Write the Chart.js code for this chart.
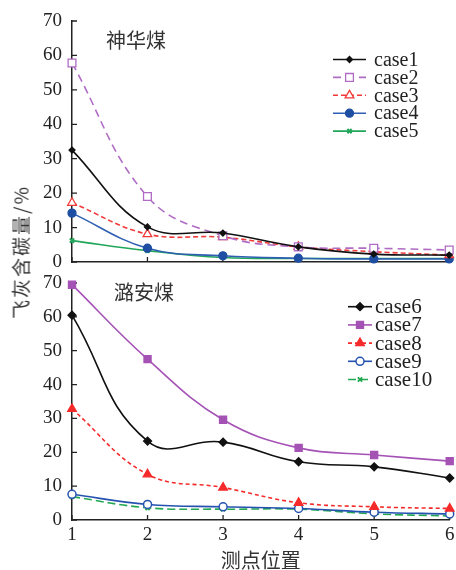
<!DOCTYPE html>
<html><head><meta charset="utf-8">
<script src="https://cdn.jsdelivr.net/npm/chart.js@4/dist/chart.umd.min.js"></script>
<style>
html,body{margin:0;padding:0;background:#fff;}
#wrap{position:relative;width:456px;height:570px;overflow:hidden;background:#fff;}
#c1{position:absolute;left:0;top:0;width:456px;height:274px;}
#c2{position:absolute;left:0;top:271px;width:456px;height:299px;}
#ytitle{position:absolute;left:20px;top:252px;transform:translate(-50%,-50%) rotate(-90deg);font:19px "Noto Sans CJK SC";letter-spacing:2px;white-space:nowrap;color:#333;}
</style></head><body>
<div id="wrap">
<canvas id="c1" width="456" height="274"></canvas>
<canvas id="c2" width="456" height="299"></canvas>
<div id="ytitle">飞灰含碳量/%</div>
</div>
<script>
// ---- data ----
const positions = ['1','2','3','4','5','6'];
const yTickValues = [0,10,20,30,40,50,60,70];
const topTitle = '神华煤';
const bottomTitle = '潞安煤';
const xTitle = '测点位置';

const case1 = [32.5, 10.2, 8.4, 4.4, 2.3, 2.0];
const case2 = [57.8, 19.0, 7.6, 4.4, 4.0, 3.5];
const case3 = [17.2, 8.1, 7.2, 4.4, 3.0, 2.0];
const case4 = [14.2, 4.0, 1.8, 1.1, 0.9, 0.9];
const case5 = [6.2, 3.3, 1.3, 1.0, 1.0, 1.0];

const case6 = [60.5, 23.3, 23.0, 17.2, 15.7, 12.4];
const case7 = [69.5, 47.5, 29.6, 21.3, 19.2, 17.4];
const case8 = [32.8, 13.5, 9.6, 5.1, 3.9, 3.4];
const case9 = [7.6, 4.6, 3.9, 3.4, 2.3, 1.8];
const case10 = [6.9, 3.6, 3.2, 3.2, 1.8, 1.2];

// ---- styles ----
function ds(label, data, color, opts) {
  return Object.assign({
    label, data,
    borderColor: color,
    backgroundColor: color,
    pointBorderColor: color,
    pointBackgroundColor: color,
    borderWidth: 1.6,
    pointBorderWidth: 1.3,
    tension: 0.4,
    clip: false,
    fill: false
  }, opts);
}

const innerTicks = {
  id: 'innerTicks',
  beforeDatasetsDraw(chart) {
    const {ctx, chartArea: a, scales: {x, y}} = chart;
    ctx.save();
    ctx.strokeStyle = '#222';
    ctx.lineWidth = 1.3;
    ctx.beginPath();
    x.ticks.forEach((t, i) => {
      const px = x.getPixelForTick(i);
      ctx.moveTo(px, a.bottom); ctx.lineTo(px, a.bottom - 5);
    });
    y.ticks.forEach((t, i) => {
      const py = y.getPixelForTick(i);
      ctx.moveTo(a.left, py); ctx.lineTo(a.left + 5, py);
    });
    ctx.stroke();
    ctx.restore();
  }
};

const panelDeco = {
  id: 'panelDeco',
  afterDatasetsDraw(chart, args, o) {
    const ctx = chart.ctx;
    ctx.save();
    ctx.fillStyle = '#333';
    ctx.font = '20px "Noto Sans CJK SC"';
    ctx.textAlign = 'center';
    ctx.textBaseline = 'middle';
    ctx.fillText(o.title, o.titleX, o.titleY);
    ctx.font = o.legendFont;
    ctx.textAlign = 'left';
    chart.data.datasets.forEach((d, i) => {
      const yy = o.legY + i * o.legDy;
      ctx.strokeStyle = d.borderColor;
      ctx.lineWidth = d.borderWidth;
      ctx.setLineDash(d.borderDash || []);
      ctx.beginPath();
      ctx.moveTo(o.lineX0, yy); ctx.lineTo(o.lineX1, yy);
      ctx.stroke();
      ctx.setLineDash([]);
      ctx.fillStyle = d.pointBackgroundColor;
      ctx.strokeStyle = d.pointBorderColor;
      ctx.lineWidth = d.pointBorderWidth;
      Chart.helpers.drawPoint(ctx, {pointStyle: d.pointStyle, radius: d.pointRadius, rotation: 0, borderWidth: d.pointBorderWidth}, (o.lineX0 + o.lineX1) / 2, yy);
      ctx.fillStyle = '#222';
      ctx.fillText(d.label, o.textX, yy + 1);
    });
    ctx.restore();
  }
};

function yScale() {
  return {
    min: yTickValues[0], max: yTickValues[yTickValues.length - 1],
    grid: {display: false, drawTicks: false},
    border: {display: true, color: '#222', width: 1.5},
    ticks: {stepSize: 10, padding: 10, color: '#222', font: {family: 'Liberation Serif', size: 19}},
    afterFit(s) { s.width = 72; s.paddingTop = 0; s.paddingBottom = 0; }
  };
}

const commonPlugins = {legend: {display: false}, tooltip: {enabled: false}};

new Chart(document.getElementById('c1'), {
  type: 'line',
  data: {
    labels: positions,
    datasets: [
      ds('case1', case1, '#111111', {pointStyle: 'rectRot', pointRadius: 3}),
      ds('case2', case2, '#b06cc4', {pointStyle: 'rect', pointRadius: 5.5, pointBackgroundColor: '#ffffff', borderDash: [8, 5]}),
      ds('case3', case3, '#f03a3a', {pointStyle: 'triangle', pointRadius: 5, pointBackgroundColor: '#ffffff', borderDash: [5, 3]}),
      ds('case4', case4, '#2f5fb3', {pointStyle: 'circle', pointRadius: 4, pointBackgroundColor: '#1f4fa3', pointBorderColor: '#1f4fa3'}),
      ds('case5', case5, '#22a65a', {pointStyle: 'crossRot', pointRadius: 3, pointBorderWidth: 2})
    ]
  },
  options: {
    responsive: false, animation: false,
    layout: {padding: {left: 0, right: 4, top: 21, bottom: 0}},
    scales: {
      x: {
        type: 'category', offset: false,
        grid: {display: false, drawTicks: false},
        border: {display: true, color: '#222', width: 1.5},
        ticks: {display: false},
        afterFit(s) { s.height = 12; }
      },
      y: yScale()
    },
    plugins: Object.assign({}, commonPlugins, {
      panelDeco: {title: topTitle, titleX: 136, titleY: 40, legendFont: '20px "Liberation Serif"',
        legY: 59.5, legDy: 17.9, lineX0: 333, lineX1: 366, textX: 374}
    })
  },
  plugins: [innerTicks, panelDeco]
});

new Chart(document.getElementById('c2'), {
  type: 'line',
  data: {
    labels: positions,
    datasets: [
      ds('case6', case6, '#111111', {pointStyle: 'rectRot', pointRadius: 4, tension: 0.45}),
      ds('case7', case7, '#a552b5', {pointStyle: 'rect', pointRadius: 5}),
      ds('case8', case8, '#f52a2a', {pointStyle: 'triangle', pointRadius: 5, borderDash: [4, 3]}),
      ds('case9', case9, '#2552b0', {pointStyle: 'circle', pointRadius: 4, pointBackgroundColor: '#ffffff', pointBorderWidth: 1.5}),
      ds('case10', case10, '#22a850', {pointStyle: 'crossRot', pointRadius: 3, pointBorderWidth: 2, borderDash: [8, 4]})
    ]
  },
  options: {
    responsive: false, animation: false,
    layout: {padding: {left: 0, right: 4, top: 12, bottom: 0}},
    scales: {
      x: {
        type: 'category', offset: false,
        grid: {display: false, drawTicks: false},
        border: {display: true, color: '#222', width: 1.5},
        ticks: {padding: 4, color: '#222', font: {family: 'Liberation Serif', size: 19}, maxRotation: 0},
        title: {display: true, text: xTitle, color: '#333', padding: {top: 0, bottom: 0}, font: {family: 'Noto Sans CJK SC', size: 20, lineHeight: 1}},
        afterFit(s) { s.height = 50; s.paddingLeft = 0; s.paddingRight = 0; }
      },
      y: yScale()
    },
    plugins: Object.assign({}, commonPlugins, {
      panelDeco: {title: bottomTitle, titleX: 144, titleY: 21, legendFont: '21px "Liberation Serif"',
        legY: 35.7, legDy: 18.2, lineX0: 348, lineX1: 372, textX: 375}
    })
  },
  plugins: [innerTicks, panelDeco]
});
</script>
</body></html>
